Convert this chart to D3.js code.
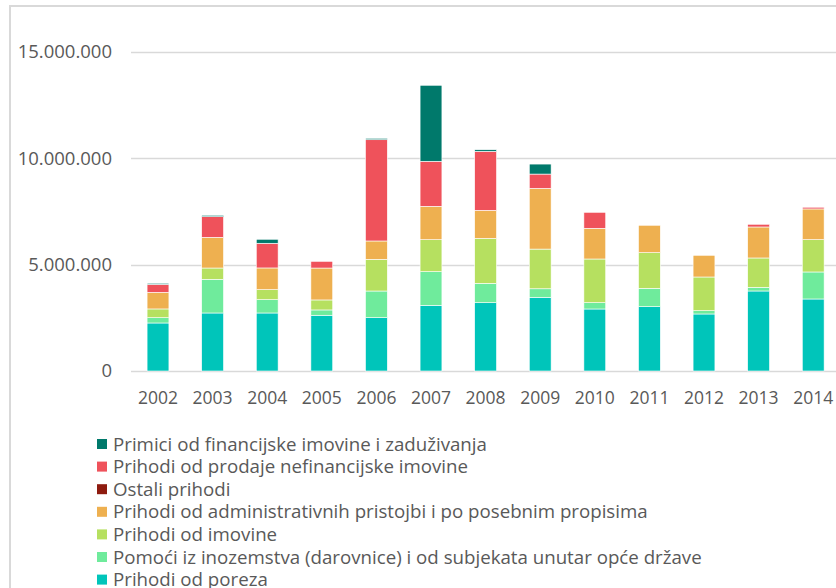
<!DOCTYPE html>
<html>
<head>
<meta charset="utf-8">
<script src="https://cdn.jsdelivr.net/npm/d3@7"></script>
<style>
html,body{margin:0;padding:0;background:#fff;overflow:hidden;}
svg{display:block;}
text{font-family:"Open Sans",sans-serif;fill:#595959;}
</style>
</head>
<body>
<svg id="chart" width="836" height="588"></svg>
<script>
const years = ["2002","2003","2004","2005","2006","2007","2008","2009","2010","2011","2012","2013","2014"];
const seriesNames = [
  "Prihodi od poreza",
  "Pomoći iz inozemstva (darovnice) i od subjekata unutar opće države",
  "Prihodi od imovine",
  "Prihodi od administrativnih pristojbi i po posebnim propisima",
  "Ostali prihodi",
  "Prihodi od prodaje nefinancijske imovine",
  "Primici od financijske imovine i zaduživanja"
];
const seriesColors = ["#00C5BA","#6FEB9C","#B6E060","#EEB050","#8E1B0F","#EF525B","#00796B"];
const porez    = [2257000,2727000,2727000,2620000,2506000,3088000,3210000,3465000,2915000,3023000,2680000,3761000,3385000];
const pomoci   = [250000,1584000,627000,250000,1254000,1580000,910000,400000,296000,865000,155000,174000,1270000];
const imovina  = [410000,530000,470000,470000,1490000,1504000,2116000,1866000,2054000,1674000,1584000,1378000,1520000];
const admin    = [780000,1443000,1020000,1500000,862000,1570000,1316000,2854000,1443000,1288000,1020000,1457000,1443000];
const ostali   = [0,0,0,0,0,0,0,0,0,0,0,0,0];
const prodaja  = [376000,970000,1160000,315000,4760000,2116000,2774000,672000,752000,0,0,127000,80000];
const primici  = [50000,66000,188000,0,66000,3573000,75000,470000,0,0,0,0,0];
const yTicks = [0,5000000,10000000,15000000];

const seriesValues = [porez,pomoci,imovina,admin,ostali,prodaja,primici];
const keys = seriesNames.map((n,i)=>"s"+i);
const table = years.map((y,j)=>{
  const row = {year:y};
  seriesValues.forEach((arr,i)=>row[keys[i]] = arr[j]);
  return row;
});

const svg = d3.select("#chart");
const x = d3.scaleBand().domain(years).range([130.7,840.5]).paddingInner(0.6).paddingOuter(0.3);
const y = d3.scaleLinear().domain([0,15000000]).range([371,51.9]);
const fmt = d3.formatLocale({decimal:",",thousands:".",grouping:[3],currency:["",""]}).format(",");

// outer border
svg.append("rect").attr("x",10).attr("y",6).attr("width",900).attr("height",700)
  .attr("fill","none").attr("stroke","#d9d9d9").attr("stroke-width",2);

// gridlines
svg.append("g").selectAll("line").data(yTicks).join("line")
  .attr("x1",131).attr("x2",836)
  .attr("y1",d=>Math.round(y(d))+0.5).attr("y2",d=>Math.round(y(d))+0.5)
  .attr("stroke","#d9d9d9").attr("stroke-width",1.3);

// y labels
svg.append("g").selectAll("text").data(yTicks).join("text")
  .attr("x",112).attr("y",d=>y(d)).attr("dy","0.35em")
  .attr("text-anchor","end").style("font-size","18.5px")
  .text(d=>fmt(d));

// x labels
svg.append("g").selectAll("text").data(years).join("text")
  .attr("x",d=>x(d)+x.bandwidth()/2).attr("y",398).attr("dy","0.35em")
  .attr("text-anchor","middle").style("font-size","17.5px")
  .text(d=>d);

// bars
const stack = d3.stack().keys(keys)(table);
svg.append("g").selectAll("g").data(stack).join("g")
  .attr("fill",(d,i)=>seriesColors[i])
  .selectAll("rect").data(d=>d).join("rect")
  .attr("x",d=>x(d.data.year)).attr("width",x.bandwidth())
  .attr("y",d=>y(d[1])).attr("height",d=>Math.max(0,y(d[0])-y(d[1])))
  .attr("stroke","#ffffff").attr("stroke-width",0.6);

// legend (reverse order)
const legendOrder = d3.range(seriesNames.length).reverse();
const lg = svg.append("g").selectAll("g").data(legendOrder).join("g")
  .attr("transform",(d,i)=>`translate(97,${444+i*22.6})`);
lg.append("rect").attr("x",0).attr("y",-5).attr("width",10).attr("height",10)
  .attr("fill",d=>seriesColors[d]);
lg.append("text").attr("x",16).attr("y",0).attr("dy","0.35em")
  .style("font-size","18.7px").text(d=>seriesNames[d]);
</script>
</body>
</html>
